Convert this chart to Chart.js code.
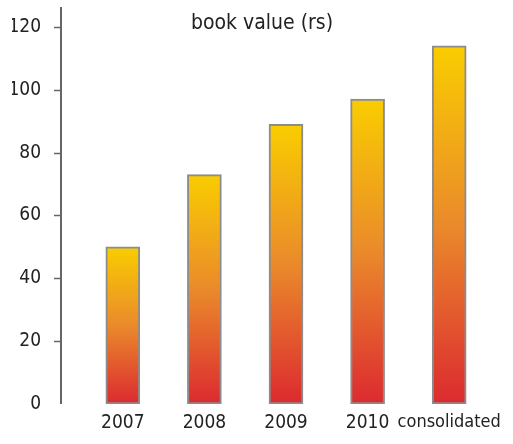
<!DOCTYPE html>
<html>
<head>
<meta charset="utf-8">
<script src="https://cdn.jsdelivr.net/npm/chart.js@4"></script>
<style>
  html, body { margin: 0; padding: 0; background: #fff; }
  #wrap { width: 513px; height: 444px; }
</style>
</head>
<body>
<div id="wrap"><canvas id="bv"></canvas></div>
<script>
const years = ['2007', '2008', '2009', '2010', 'consolidated'];
const bookValue = [50, 73, 89, 97, 114];
const yTicks = [0, 20, 40, 60, 80, 100, 120];
const heading = 'book value (rs)';

const FONT = '"DejaVu Sans Condensed", "DejaVu Sans", sans-serif';

// each bar fades from yellow at its top to red at the baseline
function barFill(ctx) {
  const chart = ctx.chart;
  if (!chart.chartArea || ctx.parsed === undefined) return '#ec8a2a';
  const y = chart.scales.y;
  const top = y.getPixelForValue(ctx.parsed.y);
  const bottom = y.getPixelForValue(0);
  const g = chart.ctx.createLinearGradient(0, top, 0, bottom);
  g.addColorStop(0, '#f9cd00');
  g.addColorStop(0.5, '#ea8a2b');
  g.addColorStop(1, '#dc2a30');
  return g;
}

// plain vertical axis line sitting left of the plot, with short ticks,
// plus the heading which floats inside the plot area
const sideAxis = {
  id: 'sideAxis',
  afterDraw(chart) {
    const c = chart.ctx;
    const y = chart.scales.y;
    const x = 61;
    c.save();
    c.strokeStyle = '#666';
    c.lineWidth = 2;
    c.beginPath();
    c.moveTo(x, 7);
    c.lineTo(x, y.getPixelForValue(0));
    c.stroke();
    c.lineWidth = 1.5;
    yTicks.slice(1).forEach(v => {
      const py = Math.round(y.getPixelForValue(v)) + 0.5;
      c.beginPath();
      c.moveTo(54, py);
      c.lineTo(x, py);
      c.stroke();
    });
    c.fillStyle = '#222';
    c.font = '21px ' + FONT;
    c.textAlign = 'center';
    c.textBaseline = 'middle';
    c.fillText(heading, 262, 24);
    c.restore();
  }
};

new Chart(document.getElementById('bv'), {
  type: 'bar',
  data: {
    labels: years,
    datasets: [{
      label: heading,
      data: bookValue,
      backgroundColor: barFill,
      borderColor: '#8c8c8c',
      borderWidth: 2,
      borderSkipped: false,
      barThickness: 34
    }]
  },
  options: {
    responsive: true,
    maintainAspectRatio: false,
    animation: false,
    layout: { padding: { left: 12, right: 23, top: 8, bottom: 0 } },
    plugins: {
      legend: { display: false },
      tooltip: { enabled: false },
      title: { display: false }
    },
    scales: {
      x: {
        grid: { display: false, drawTicks: false },
        border: { display: false },
        ticks: {
          color: '#222',
          padding: 8,
          maxRotation: 0,
          minRotation: 0,
          autoSkip: false,
          font: (ctx) => ({ family: FONT, size: ctx.index === 4 ? 18 : 19 })
        },
        afterFit(scale) { scale.height = 40; }
      },
      y: {
        min: 0,
        max: 126,
        grid: { display: false, drawTicks: false },
        border: { display: false },
        ticks: {
          color: '#222',
          padding: 41,
          font: { family: FONT, size: 19 }
        },
        afterBuildTicks(scale) {
          scale.ticks = yTicks.map(v => ({ value: v }));
        },
        afterFit(scale) {
          scale.width = 70;
          scale.paddingTop = 0;
          scale.paddingBottom = 0;
        }
      }
    }
  },
  plugins: [sideAxis]
});
</script>
</body>
</html>
